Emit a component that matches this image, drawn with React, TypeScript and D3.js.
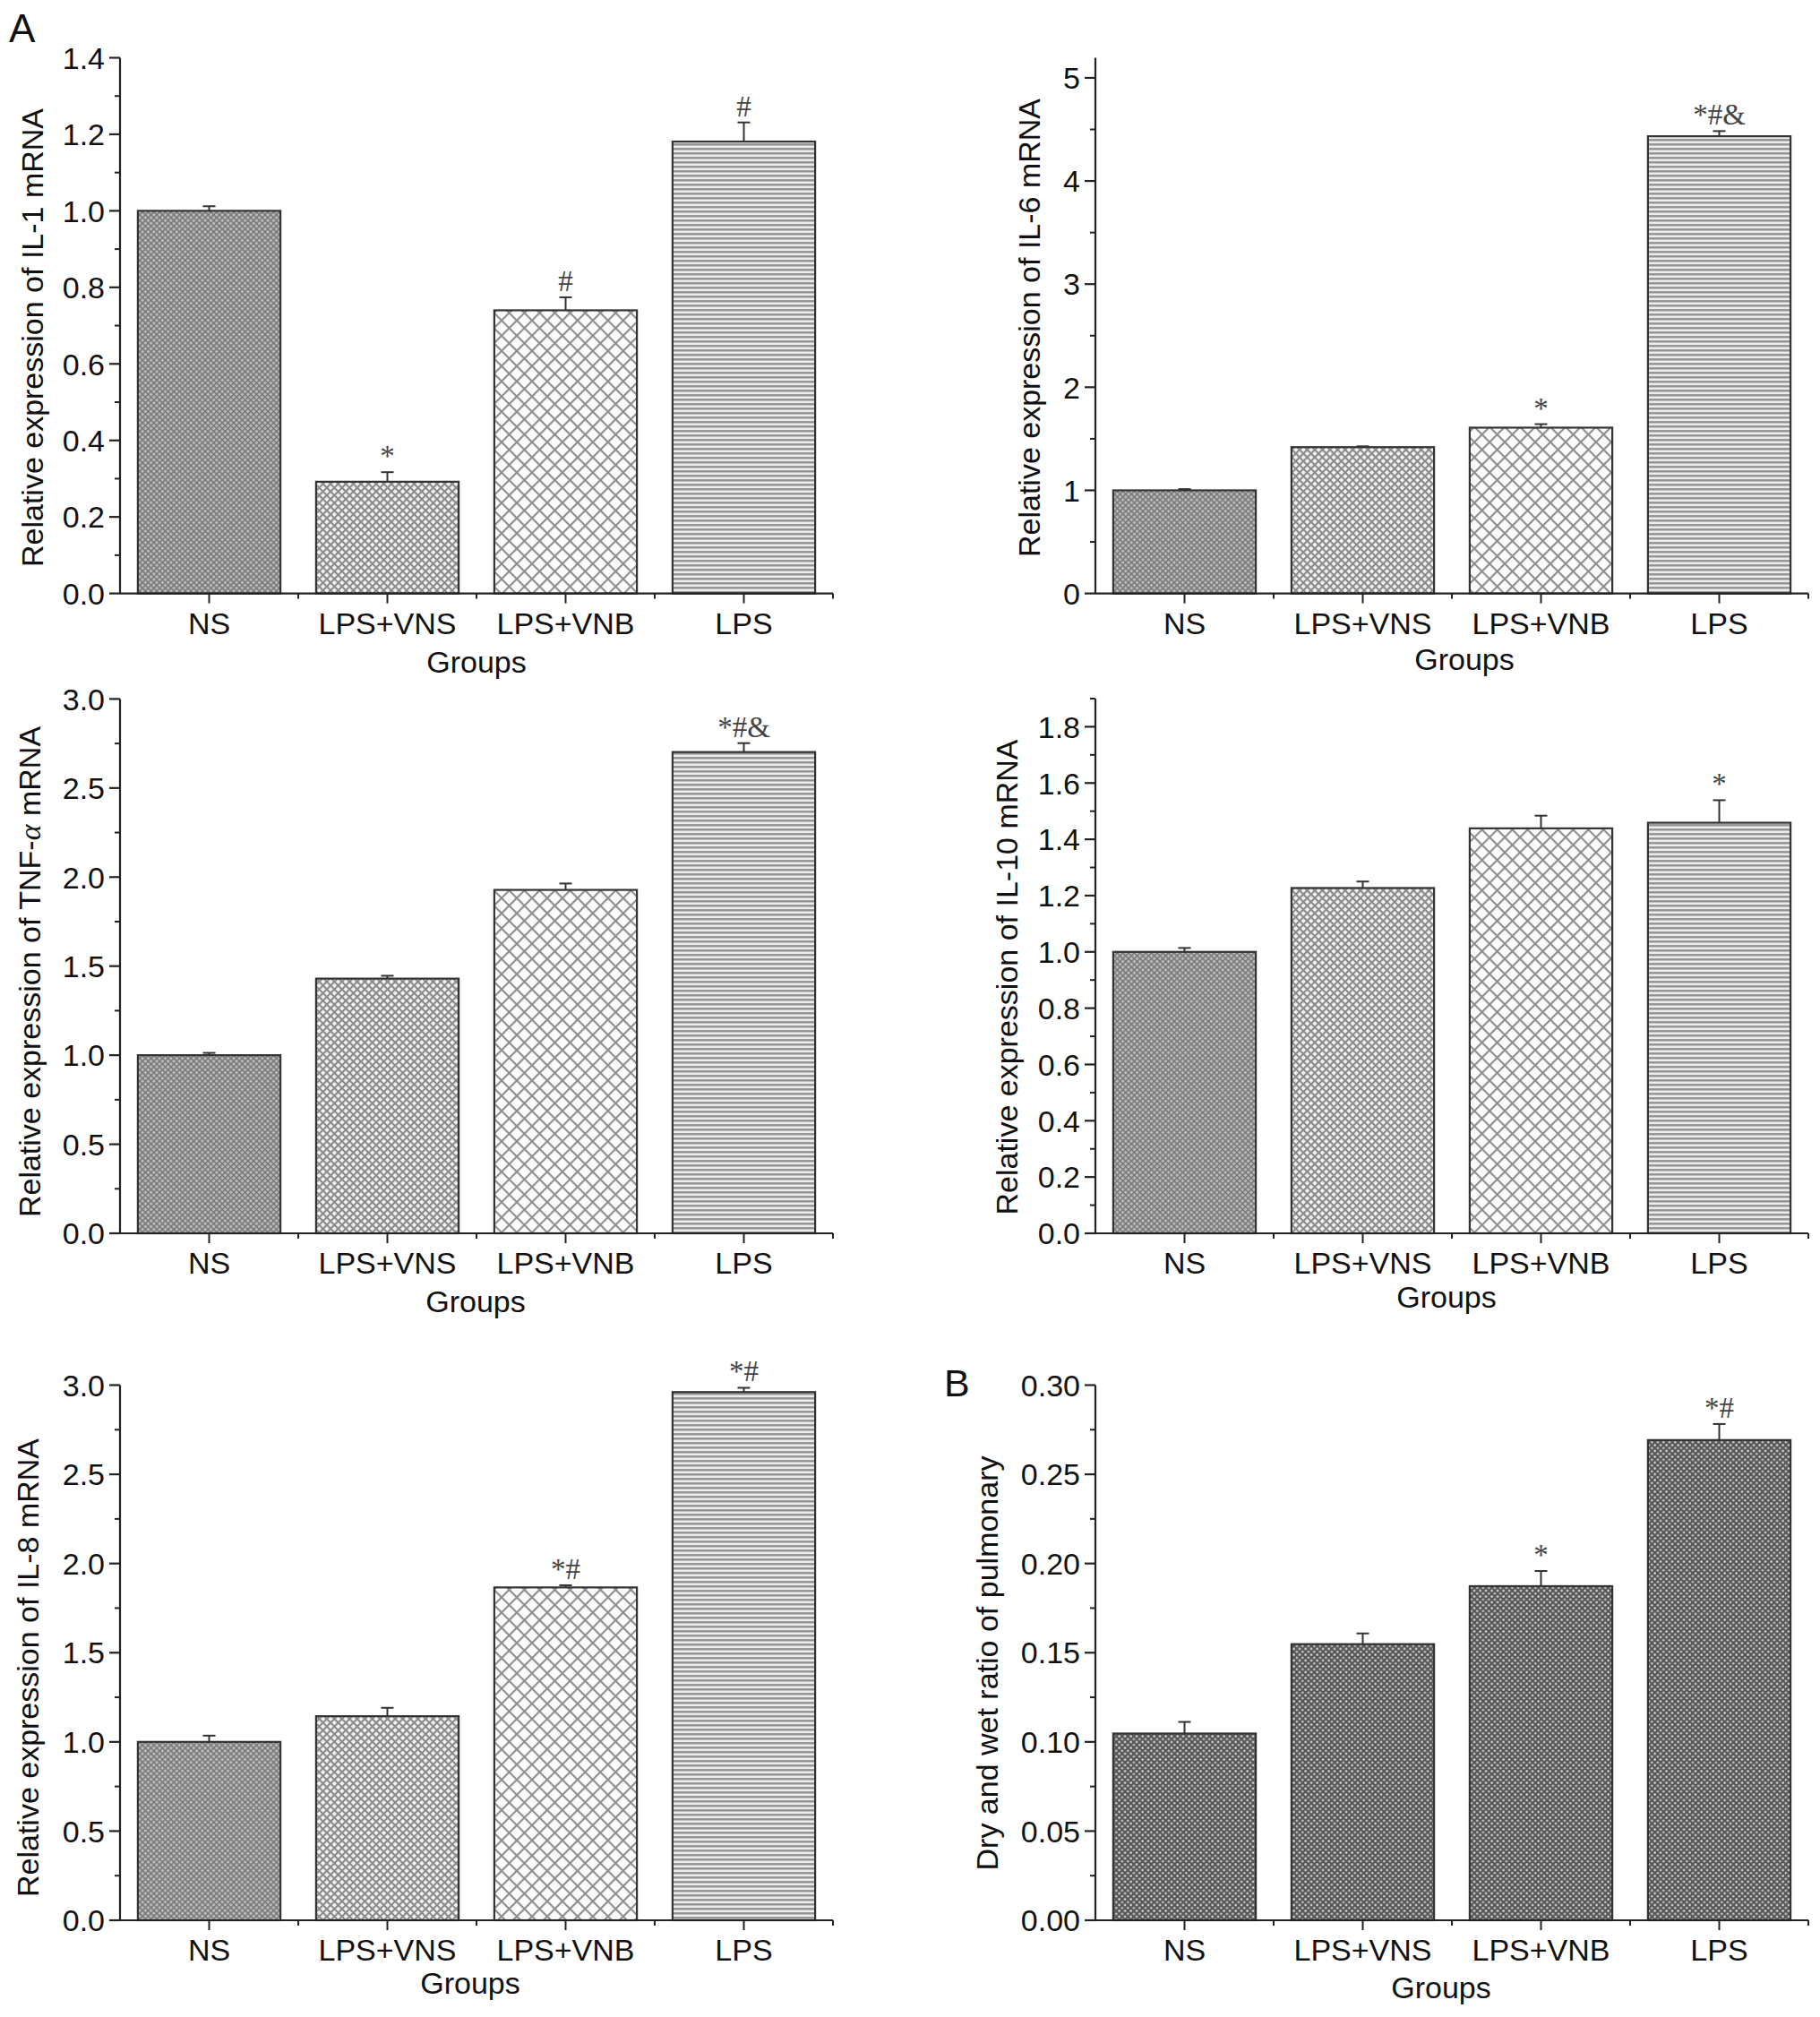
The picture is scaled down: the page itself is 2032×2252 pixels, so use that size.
import React from "react";
import * as d3 from "d3";

// ---------- data ----------
const groups = ["NS", "LPS+VNS", "LPS+VNB", "LPS"];

const il1Values = [1.0, 0.292, 0.74, 1.181];
const il1Errors = [0.012, 0.025, 0.034, 0.05];
const il1Marks = ["", "*", "#", "#"];
const il1Ticks = [0, 0.2, 0.4, 0.6, 0.8, 1.0, 1.2, 1.4];

const il6Values = [1.0, 1.419, 1.608, 4.434];
const il6Errors = [0.012, 0.008, 0.034, 0.05];
const il6Marks = ["", "", "*", "*#&"];
const il6Ticks = [0, 1, 2, 3, 4, 5];

const tnfValues = [1.0, 1.43, 1.928, 2.702];
const tnfErrors = [0.013, 0.016, 0.036, 0.05];
const tnfMarks = ["", "", "", "*#&"];
const tnfTicks = [0, 0.5, 1.0, 1.5, 2.0, 2.5, 3.0];

const il10Values = [1.0, 1.227, 1.439, 1.459];
const il10Errors = [0.014, 0.023, 0.045, 0.08];
const il10Marks = ["", "", "", "*"];
const il10Ticks = [0, 0.2, 0.4, 0.6, 0.8, 1.0, 1.2, 1.4, 1.6, 1.8];

const il8Values = [1.0, 1.144, 1.866, 2.961];
const il8Errors = [0.035, 0.047, 0.012, 0.024];
const il8Marks = ["", "", "*#", "*#"];
const il8Ticks = [0, 0.5, 1.0, 1.5, 2.0, 2.5, 3.0];

const ratioValues = [0.1047, 0.1548, 0.1873, 0.2692];
const ratioErrors = [0.0065, 0.006, 0.0085, 0.009];
const ratioMarks = ["", "", "*", "*#"];
const ratioTicks = [0, 0.05, 0.1, 0.15, 0.2, 0.25, 0.3];

// ---------- layout / style ----------
const SANS = "'Liberation Sans', Arial, Helvetica, sans-serif";
const SERIF = "'Liberation Serif', 'Times New Roman', serif";
const FS = 34;

type Cfg = {
  values: number[];
  errors: number[];
  marks: string[];
  ticks: number[];
  fmt: string;
  max: number;
  minor: number;
  label: React.ReactNode;
  x0: number;
  yBase: number;
  yTop: number;
  ylx: number;
  yly: number;
  gx: number;
  gy: number;
  pats: string[];
};

const W = 796;

const panels: Cfg[] = [
  {
    values: il1Values, errors: il1Errors, marks: il1Marks, ticks: il1Ticks, fmt: ".1f",
    max: 1.4, minor: 0.1, label: "Relative expression of IL-1 mRNA",
    x0: 134, yBase: 662.6, yTop: 64.5, ylx: 36, yly: 377, gx: 532, gy: 751,
    pats: ["pNS", "pVNS", "pVNB", "pLPS"],
  },
  {
    values: il6Values, errors: il6Errors, marks: il6Marks, ticks: il6Ticks, fmt: "d",
    max: 5.195, minor: 0.5, label: "Relative expression of IL-6 mRNA",
    x0: 1223, yBase: 662.6, yTop: 64.5, ylx: 1149, yly: 366, gx: 1635, gy: 748,
    pats: ["pNS", "pVNS", "pVNB", "pLPS"],
  },
  {
    values: tnfValues, errors: tnfErrors, marks: tnfMarks, ticks: tnfTicks, fmt: ".1f",
    max: 3.0, minor: 0.25,
    label: (
      <>
        Relative expression of TNF-
        <tspan fontFamily={SERIF} fontStyle="italic">α</tspan> mRNA
      </>
    ),
    x0: 134, yBase: 1377, yTop: 780.4, ylx: 33, yly: 1085, gx: 531, gy: 1465,
    pats: ["pNS", "pVNS", "pVNB", "pLPS"],
  },
  {
    values: il10Values, errors: il10Errors, marks: il10Marks, ticks: il10Ticks, fmt: ".1f",
    max: 1.9, minor: 0.1, label: "Relative expression of IL-10 mRNA",
    x0: 1223, yBase: 1377, yTop: 780, ylx: 1124, yly: 1091, gx: 1615, gy: 1460,
    pats: ["pNS", "pVNS", "pVNB", "pLPS"],
  },
  {
    values: il8Values, errors: il8Errors, marks: il8Marks, ticks: il8Ticks, fmt: ".1f",
    max: 3.0, minor: 0.25, label: "Relative expression of IL-8 mRNA",
    x0: 134, yBase: 2144, yTop: 1546.5, ylx: 31, yly: 1862, gx: 525, gy: 2226,
    pats: ["pNS", "pVNS", "pVNB", "pLPS"],
  },
  {
    values: ratioValues, errors: ratioErrors, marks: ratioMarks, ticks: ratioTicks, fmt: ".2f",
    max: 0.3, minor: 0.025, label: "Dry and wet ratio of pulmonary",
    x0: 1223, yBase: 2144, yTop: 1546.5, ylx: 1102, yly: 1857, gx: 1609, gy: 2231,
    pats: ["pB", "pB", "pB", "pB"],
  },
];

function Panel({ c }: { c: Cfg }) {
  const x = d3
    .scaleBand<string>()
    .domain(groups)
    .range([c.x0, c.x0 + W])
    .paddingInner(0.2)
    .paddingOuter(0.1);
  const y = d3.scaleLinear().domain([0, c.max]).range([c.yBase, c.yTop]);
  const fmt = d3.format(c.fmt);
  const step = x.step();
  const minorTicks = d3
    .range(0, c.max + 1e-9, c.minor)
    .filter((v) => !c.ticks.some((t) => Math.abs(t - v) < 1e-9));
  const bounds = d3.range(1, groups.length + 1).map((k) => c.x0 + k * step);
  const stroke = "#222";

  return (
    <g>
      {groups.map((g, i) => {
        const bx = x(g)!;
        const top = y(c.values[i]);
        return (
          <rect
            key={g}
            x={bx}
            y={top}
            width={x.bandwidth()}
            height={c.yBase - top}
            fill={`url(#${c.pats[i]})`}
            stroke="#333"
            strokeWidth={2.2}
          />
        );
      })}
      {groups.map((g, i) => {
        const cx = x(g)! + x.bandwidth() / 2;
        const y1 = y(c.values[i]);
        const y2 = y(c.values[i] + c.errors[i]);
        return (
          <g key={"e" + g} stroke="#333" strokeWidth={2}>
            <line x1={cx} x2={cx} y1={y1} y2={y2} />
            <line x1={cx - 7} x2={cx + 7} y1={y2} y2={y2} />
          </g>
        );
      })}
      {groups.map((g, i) =>
        c.marks[i] ? (
          <text
            key={"m" + g}
            x={x(g)! + x.bandwidth() / 2}
            y={y(c.values[i] + c.errors[i]) - 7}
            textAnchor="middle"
            fontFamily={SERIF}
            fontSize={33}
            fill="#444"
          >
            {c.marks[i]}
          </text>
        ) : null
      )}
      <line x1={c.x0} x2={c.x0} y1={c.yBase} y2={c.yTop} stroke={stroke} strokeWidth={2.2} />
      {c.ticks.map((t) => (
        <g key={"t" + t}>
          <line x1={c.x0 - 12} x2={c.x0} y1={y(t)} y2={y(t)} stroke={stroke} strokeWidth={2.2} />
          <text
            x={c.x0 - 17}
            y={y(t) + FS * 0.36}
            textAnchor="end"
            fontFamily={SANS}
            fontSize={FS}
            fill="#111"
          >
            {fmt(t)}
          </text>
        </g>
      ))}
      {minorTicks.map((t) => (
        <line key={"mt" + t} x1={c.x0 - 6} x2={c.x0} y1={y(t)} y2={y(t)} stroke={stroke} strokeWidth={2} />
      ))}
      <line x1={c.x0} x2={c.x0 + W} y1={c.yBase} y2={c.yBase} stroke={stroke} strokeWidth={2.2} />
      {groups.map((g) => {
        const cx = x(g)! + x.bandwidth() / 2;
        return (
          <g key={"x" + g}>
            <line x1={cx} x2={cx} y1={c.yBase} y2={c.yBase + 11} stroke={stroke} strokeWidth={2} />
            <text
              x={cx}
              y={c.yBase + 45}
              textAnchor="middle"
              fontFamily={SANS}
              fontSize={FS}
              fill="#111"
            >
              {g}
            </text>
          </g>
        );
      })}
      {bounds.map((b) => (
        <line key={"b" + b} x1={b} x2={b} y1={c.yBase} y2={c.yBase + 6} stroke={stroke} strokeWidth={2} />
      ))}
      <text x={c.gx} y={c.gy} textAnchor="middle" fontFamily={SANS} fontSize={FS} fill="#111">
        Groups
      </text>
      <text
        transform={`translate(${c.ylx},${c.yly}) rotate(-90)`}
        textAnchor="middle"
        dominantBaseline="central"
        fontFamily={SANS}
        fontSize={FS}
        fill="#111"
      >
        {c.label}
      </text>
    </g>
  );
}

export default function App() {
  return (
    <svg
      width={2032}
      height={2252}
      viewBox="0 0 2032 2252"
      style={{ position: "absolute", left: 0, top: 0, background: "#fff" }}
    >
      <defs>
        <pattern id="pNS" width={4.5} height={4.5} patternUnits="userSpaceOnUse" patternTransform="rotate(45)">
          <rect width={4.5} height={4.5} fill="#bcbcbc" />
          <line x1={0} x2={4.5} y1={0.8} y2={0.8} stroke="#767676" strokeWidth={1.5} />
          <line x1={0.8} x2={0.8} y1={0} y2={4.5} stroke="#767676" strokeWidth={1.5} />
        </pattern>
        <pattern id="pVNS" width={6} height={6} patternUnits="userSpaceOnUse" patternTransform="rotate(45)">
          <rect width={6} height={6} fill="#f2f2f2" />
          <line x1={0} x2={6} y1={1} y2={1} stroke="#8a8a8a" strokeWidth={2.2} />
          <line x1={1} x2={1} y1={0} y2={6} stroke="#8a8a8a" strokeWidth={2.2} />
        </pattern>
        <pattern id="pVNB" width={12} height={12} patternUnits="userSpaceOnUse" patternTransform="rotate(45)">
          <rect width={12} height={12} fill="#fbfbfb" />
          <line x1={0} x2={12} y1={1} y2={1} stroke="#8e8e8e" strokeWidth={2.2} />
          <line x1={1} x2={1} y1={0} y2={12} stroke="#8e8e8e" strokeWidth={2.2} />
        </pattern>
        <pattern id="pLPS" width={10} height={5} patternUnits="userSpaceOnUse">
          <rect width={10} height={5} fill="#ececec" />
          <line x1={0} x2={10} y1={1.3} y2={1.3} stroke="#929292" strokeWidth={2.4} />
        </pattern>
        <pattern id="pB" width={6.5} height={6.5} patternUnits="userSpaceOnUse">
          <rect width={6.5} height={6.5} fill="#565656" />
          <circle cx={1.6} cy={1.6} r={1.3} fill="#dedede" />
          <circle cx={4.85} cy={4.85} r={1.3} fill="#c8c8c8" />
        </pattern>
      </defs>
      {panels.map((c, i) => (
        <Panel key={i} c={c} />
      ))}
      <text x={10} y={47} fontFamily={SANS} fontSize={44} fill="#111">
        A
      </text>
      <text x={1054} y={1559} fontFamily={SANS} fontSize={43} fill="#111">
        B
      </text>
    </svg>
  );
}
